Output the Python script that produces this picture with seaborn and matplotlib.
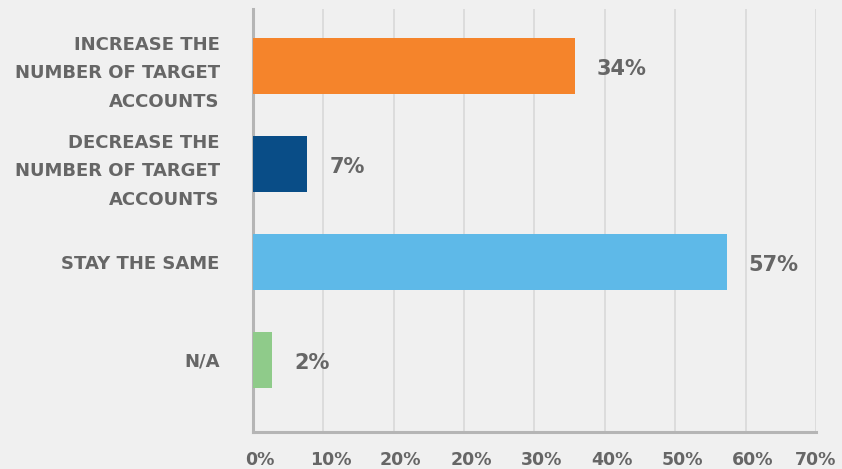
import pandas as pd
import seaborn as sns
import matplotlib.pyplot as plt
from matplotlib.transforms import ScaledTranslation

# === Chart data ===
categories = ["INCREASE THE\nNUMBER OF TARGET\nACCOUNTS",
              "DECREASE THE\nNUMBER OF TARGET\nACCOUNTS",
              "STAY THE SAME",
              "N/A"]
# bar lengths as drawn on the axis
bar_lengths = [45.7, 7.7, 67.3, 2.7]
# value labels printed next to the bars
value_labels = ["34%", "7%", "57%", "2%"]
bar_colors = ["#F5842B", "#094D87", "#5EB9E8", "#8FCB8A"]
tick_values = [0, 10, 20, 30, 40, 50, 60, 70, 80]
tick_labels = ["0%", "10%", "20%", "20%", "30%", "40%", "50%", "60%", "70%"]

df = pd.DataFrame({"Answer": categories, "Share": bar_lengths})

# === Style ===
bg = "#F0F0F0"
text_grey = "#666666"
sns.set_style("white")
plt.rcParams["font.family"] = ["DejaVu Sans"]

fig = plt.figure(figsize=(8.42, 4.69), dpi=100, facecolor=bg)
ax = fig.add_axes([0.3005, 0.079, 0.6685, 0.901])
ax.set_facecolor(bg)

sns.barplot(data=df, y="Answer", x="Share", hue="Answer", palette=bar_colors,
            orient="h", width=0.57, saturation=1, linewidth=0, legend=False,
            ax=ax, zorder=3)

# value labels
for bar, lab in zip(ax.patches, value_labels):
    ax.annotate(lab, (bar.get_width(), bar.get_y() + bar.get_height() / 2),
                xytext=(16, -2), textcoords="offset points", ha="left", va="center",
                fontsize=15, fontweight="bold", color=text_grey)

# axes, grid, ticks
ax.set_xlim(0, 80)
ax.set_ylim(3.735, -0.58)
ax.set_xticks(tick_values)
ax.set_xticklabels(tick_labels)
ax.grid(axis="x", color="#D9D9D9", linewidth=1.2, zorder=0)
ax.set_axisbelow(True)
ax.tick_params(axis="x", length=0, pad=14, labelsize=12.5, labelcolor=text_grey)
ax.tick_params(axis="y", length=0, pad=24, labelsize=13, labelcolor=text_grey)
for lab in ax.get_xticklabels() + ax.get_yticklabels():
    lab.set_fontweight("bold")
for lab in ax.get_yticklabels():
    lab.set_linespacing(1.75)
# x labels sit a little to the right of their gridlines (last one hits the edge)
shift = ScaledTranslation(5 / 72, 0, fig.dpi_scale_trans)
for lab in ax.get_xticklabels()[:-1]:
    lab.set_transform(lab.get_transform() + shift)
ax.set_xlabel("")
ax.set_ylabel("")

sns.despine(ax=ax, top=True, right=True)
for side in ["left", "bottom"]:
    ax.spines[side].set_color("#B5B5B5")
    ax.spines[side].set_linewidth(2.2)

fig.savefig("out.png", dpi=100, facecolor=bg)
